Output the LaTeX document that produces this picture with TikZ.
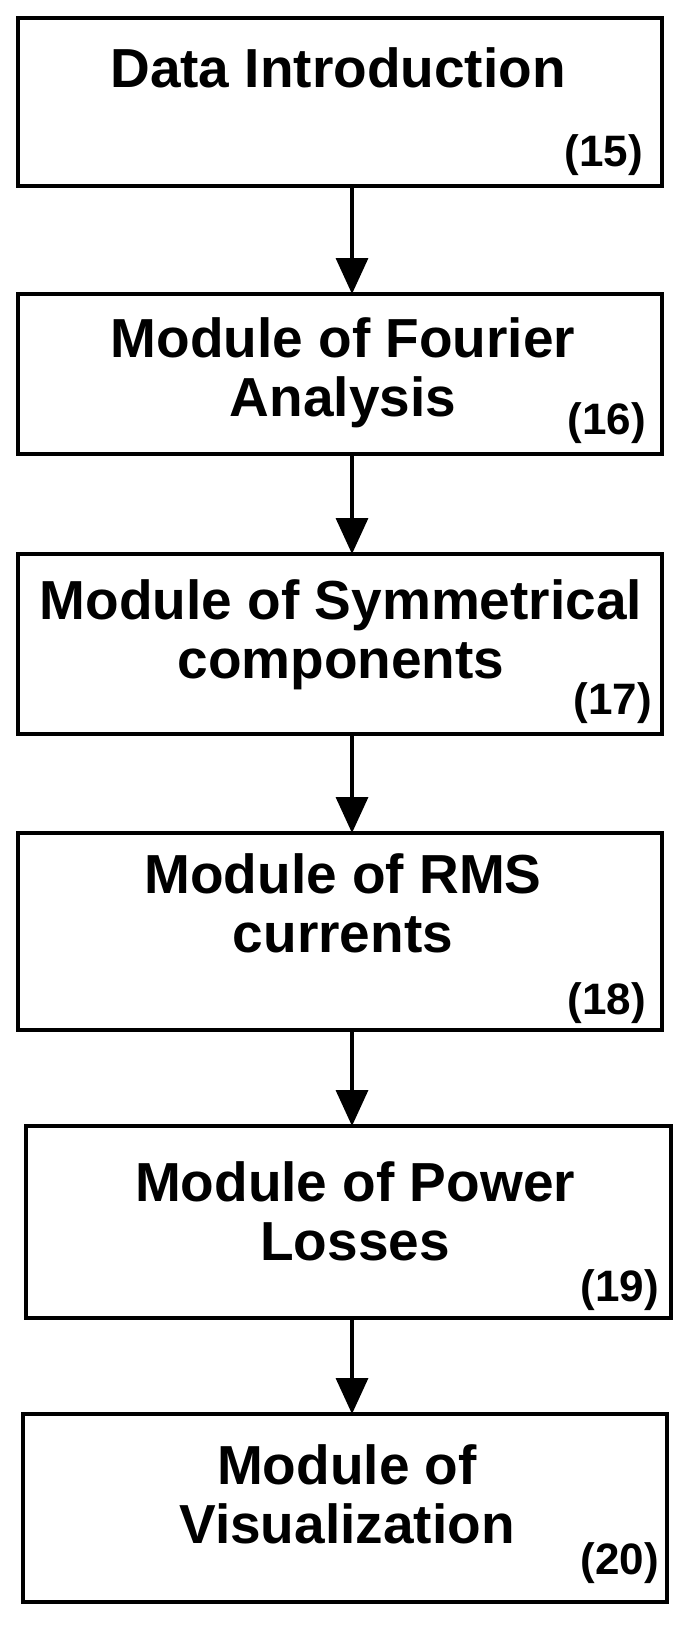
\documentclass[tikz,border=0pt]{standalone}
\usepackage{fontspec}
\setmainfont{Liberation Sans}
\usetikzlibrary{arrows.meta}
\begin{document}
\begin{tikzpicture}[x=1pt,y=-1pt,
  box/.style={draw,line width=3.5pt},
  ttl/.style={font=\fontsize{55}{59}\selectfont\bfseries,align=center,anchor=base,inner sep=0pt},
  num/.style={font=\fontsize{44}{48}\selectfont\bfseries,anchor=base east,inner sep=0pt},
  arr/.style={line width=3.5pt,-{Triangle[length=36pt,width=32pt]}}]
\useasboundingbox (0,0) rectangle (685,1626);
\draw[box] (18,18) rectangle (662,186);
\node[ttl] (t1) at (338,87) {Data Introduction};
\node[num] (n1) at (643,166) {(15)};
\draw[box] (18,294) rectangle (662,454);
\node[ttl] (t2) at (343,416) {Module of Fourier\\Analysis};
\node[num] (n2) at (646,434) {(16)};
\draw[box] (18,554) rectangle (662,734);
\node[ttl] (t3) at (341,678) {Module of Symmetrical\\components};
\node[num] (n3) at (652,714) {(17)};
\draw[box] (18,833) rectangle (662,1030);
\node[ttl] (t4) at (343,952) {Module of RMS\\currents};
\node[num] (n4) at (646,1014) {(18)};
\draw[box] (26,1126) rectangle (671,1318);
\node[ttl] (t5) at (355,1260) {Module of Power\\Losses};
\node[num] (n5) at (659,1301) {(19)};
\draw[box] (23,1414) rectangle (667,1602);
\node[ttl] (t6) at (347,1543) {Module of\\Visualization};
\node[num] (n6) at (659,1574) {(20)};
\coordinate (a1) at (352,186); \coordinate (a2) at (352,294);
\coordinate (c1) at (352,454); \coordinate (c2) at (352,554);
\coordinate (d1) at (352,734); \coordinate (d2) at (352,833);
\coordinate (e1) at (352,1030); \coordinate (e2) at (352,1126);
\coordinate (f1) at (352,1318); \coordinate (f2) at (352,1414);
\draw[arr] (a1) -- (a2);
\draw[arr] (c1) -- (c2);
\draw[arr] (d1) -- (d2);
\draw[arr] (e1) -- (e2);
\draw[arr] (f1) -- (f2);
\end{tikzpicture}
\end{document}
